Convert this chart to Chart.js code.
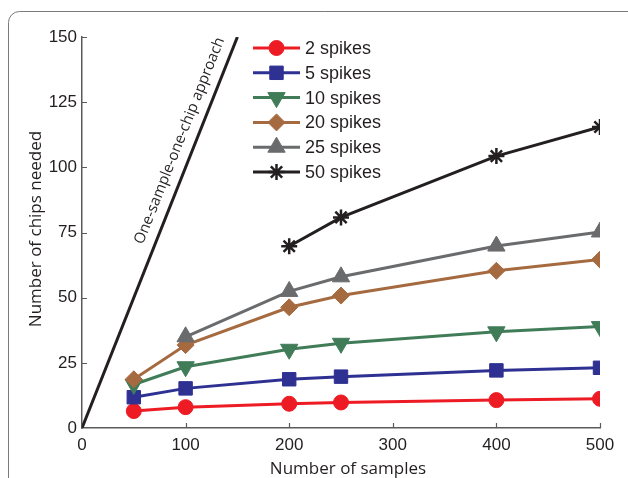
<!DOCTYPE html>
<html>
<head>
<meta charset="utf-8">
<script src="https://cdn.jsdelivr.net/npm/chart.js@4"></script>
<style>
  html, body { margin: 0; padding: 0; background: #fff; }
  #wrap { width: 628px; height: 478px; }
</style>
</head>
<body>
<div id="wrap"><canvas id="canvas" width="628" height="478"></canvas></div>
<script>
// values
const samples = [50, 100, 200, 250, 400, 500]
const spikes2 = [6.5, 8.0, 9.3, 9.8, 10.7, 11.2]
const spikes5 = [11.8, 15.2, 18.7, 19.7, 22.1, 23.1]
const spikes10 = [16.7, 23.5, 30.2, 32.5, 36.9, 38.9]
const spikes20 = [18.7, 31.8, 46.3, 50.8, 60.3, 64.6]
const spikes25 = [null, 35.0, 52.4, 58.0, 69.8, 75.2]
const spikes50 = [null, null, 69.7, 80.8, 104.3, 115.5]
const oneChipX = [0, 150]
const oneChipY = [0, 150]
const xTicks = [0, 100, 200, 300, 400, 500]
const yTicks = [0, 25, 50, 75, 100, 125, 150]

const tickFont = { family: 'Liberation Sans, Arial, sans-serif', size: 17 }
const titleFont = '17px "Open Sans", sans-serif'
const noteFont = '15px "Open Sans", sans-serif'

function pts(ys) {
  return samples.map((x, i) => ({ x: x, y: ys[i] }))
}

function series(label, ys, color, style, radius, extra) {
  return Object.assign({
    label: label,
    data: pts(ys),
    borderColor: color,
    backgroundColor: color,
    borderWidth: 3,
    pointStyle: style,
    pointRadius: radius,
    pointHoverRadius: radius,
    pointBorderWidth: 1,
    pointBackgroundColor: color,
    pointBorderColor: color,
    spanGaps: false,
    tension: 0,
  }, extra || {})
}

const datasets = [
  series('2 spikes', spikes2, '#ed1c24', 'circle', 7.5, { order: 6 }),
  series('5 spikes', spikes5, '#2e3192', 'rect', 9.5, { order: 5 }),
  series('10 spikes', spikes10, '#417c59', 'triangle', 10, { order: 4, pointRotation: 180 }),
  series('20 spikes', spikes20, '#a66a40', 'rectRot', 8.5, { order: 3 }),
  series('25 spikes', spikes25, '#6a6b6d', 'triangle', 10, { order: 2 }),
  series('50 spikes', spikes50, '#231f20', 'star', 8, { order: 1, pointBorderWidth: 2.5 }),
  {
    label: 'One-sample-one-chip approach',
    data: oneChipX.map((x, i) => ({ x: x, y: oneChipY[i] })),
    borderColor: '#231f20',
    borderWidth: 3,
    pointRadius: 0,
    order: 7,
  },
]

// frame, inward ticks, titles, annotation and a matlab-like legend
const extras = {
  id: 'extras',
  beforeDraw(chart) {
    const ctx = chart.ctx
    ctx.save()
    ctx.strokeStyle = '#7a7a7a'
    ctx.lineWidth = 1
    ctx.beginPath()
    ctx.roundRect(8.5, 11.5, 700, 600, 11)
    ctx.stroke()
    ctx.restore()
  },
  afterDraw(chart) {
    const ctx = chart.ctx
    const xs = chart.scales.x
    const ys = chart.scales.y
    const area = chart.chartArea
    ctx.save()
    ctx.strokeStyle = '#5a5a5a'
    ctx.lineWidth = 1.2
    ctx.beginPath()
    xTicks.slice(1).forEach(v => {
      const px = Math.round(xs.getPixelForValue(v)) + 0.5
      ctx.moveTo(px, area.bottom)
      ctx.lineTo(px, area.bottom - 5)
    })
    yTicks.slice(1).forEach(v => {
      const py = Math.round(ys.getPixelForValue(v)) + 0.5
      ctx.moveTo(area.left, py)
      ctx.lineTo(area.left + 5, py)
    })
    ctx.stroke()

    // axis titles
    ctx.fillStyle = '#231f20'
    ctx.font = titleFont
    ctx.textAlign = 'center'
    ctx.textBaseline = 'middle'
    ctx.fillText('Number of samples', 348, 469)
    ctx.save()
    ctx.translate(36, 229)
    ctx.rotate(-Math.PI / 2)
    ctx.fillText('Number of chips needed', 0, 0)
    ctx.restore()

    // label along the one-sample-one-chip line
    const x0 = xs.getPixelForValue(0), y0 = ys.getPixelForValue(0)
    const x1 = xs.getPixelForValue(150), y1 = ys.getPixelForValue(150)
    const ang = Math.atan2(y1 - y0, x1 - x0)
    const t = 0.72
    const cx = x0 + (x1 - x0) * t, cy = y0 + (y1 - y0) * t
    ctx.save()
    ctx.font = noteFont
    ctx.translate(cx, cy)
    ctx.rotate(ang)
    ctx.textBaseline = 'alphabetic'
    ctx.fillText('One-sample-one-chip approach', 0, -11)
    ctx.restore()

    // legend
    const lx0 = 253, lx1 = 300, ly = 48, step = 24.8
    ctx.font = '18px "Liberation Sans", Arial, sans-serif'
    ctx.textAlign = 'left'
    ctx.textBaseline = 'middle'
    datasets.slice(0, 6).forEach((ds, i) => {
      const y = ly + i * step
      ctx.strokeStyle = ds.borderColor
      ctx.lineWidth = ds.borderWidth
      ctx.beginPath()
      ctx.moveTo(lx0, y)
      ctx.lineTo(lx1, y)
      ctx.stroke()
      ctx.fillStyle = ds.pointBackgroundColor
      ctx.strokeStyle = ds.pointBorderColor
      ctx.lineWidth = ds.pointBorderWidth
      Chart.helpers.drawPoint(ctx, {
        pointStyle: ds.pointStyle,
        rotation: ds.pointRotation || 0,
        radius: ds.pointRadius,
        borderWidth: ds.pointBorderWidth,
      }, (lx0 + lx1) / 2, y)
      ctx.fillStyle = '#231f20'
      ctx.fillText(ds.label, 305, y + 1)
    })
    ctx.restore()
  },
}

const config = {
  type: 'line',
  data: { datasets: datasets },
  options: {
    responsive: false,
    animation: false,
    layout: { padding: { top: 37, right: 28, left: 0, bottom: 0 } },
    plugins: {
      legend: { display: false },
      tooltip: { enabled: false },
    },
    scales: {
      x: {
        type: 'linear',
        min: 0,
        max: 500,
        afterFit: s => { s.height = 50 },
        afterBuildTicks: s => { s.ticks = xTicks.map(v => ({ value: v })) },
        grid: { display: true, drawOnChartArea: false, drawTicks: false },
        border: { color: '#5a5a5a', width: 1.5 },
        ticks: { color: '#231f20', font: tickFont, padding: 7, maxRotation: 0 },
      },
      y: {
        min: 0,
        max: 150,
        afterFit: s => { s.width = 82 },
        afterBuildTicks: s => { s.ticks = yTicks.map(v => ({ value: v })) },
        grid: { display: true, drawOnChartArea: false, drawTicks: false },
        border: { color: '#5a5a5a', width: 1.5 },
        ticks: { color: '#231f20', font: tickFont, padding: 5 },
      },
    },
  },
  plugins: [extras],
}

const canvas = document.getElementById('canvas')
const chart = new Chart(canvas, config)
</script>
</body>
</html>
